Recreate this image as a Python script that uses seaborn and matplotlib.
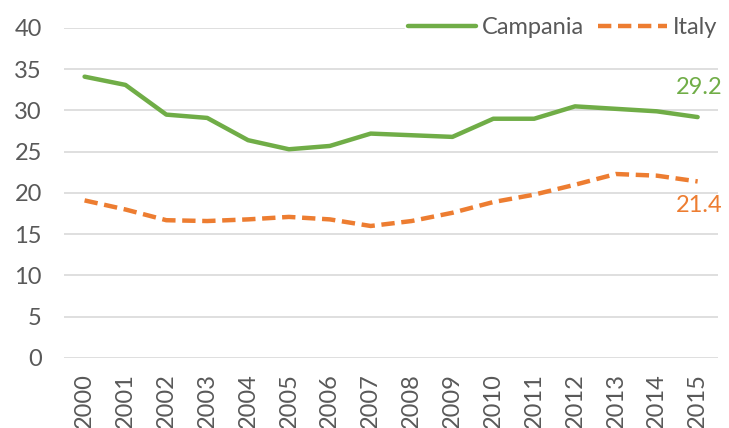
import pandas as pd
import matplotlib.pyplot as plt
import seaborn as sns

years = list(range(2000, 2016))
campania = [34.1, 33.1, 29.5, 29.1, 26.4, 25.3, 25.7, 27.2, 27.0, 26.8,
            29.0, 29.0, 30.5, 30.2, 29.9, 29.2]
italy = [19.1, 18.0, 16.7, 16.6, 16.8, 17.1, 16.8, 16.0, 16.6, 17.6,
         18.9, 19.8, 21.0, 22.3, 22.1, 21.4]

green = "#70AD47"
orange = "#ED7D31"
grey = "#595959"

sns.set_theme(style="whitegrid")
plt.rcParams['font.family'] = ['Lato', 'DejaVu Sans']

df = pd.DataFrame({
    "year": years * 2,
    "value": campania + italy,
    "area": ["Campania"] * len(years) + ["Italy"] * len(years),
})

fig = plt.figure(figsize=(7.29, 4.28), dpi=100)
ax = fig.add_axes([0.088, 0.1636, 0.897, 0.771])

sns.lineplot(data=df, x="year", y="value", hue="area", style="area",
             palette={"Campania": green, "Italy": orange},
             dashes={"Campania": "", "Italy": (3.0, 1.5)},
             linewidth=3.2, ax=ax, legend=True)

ax.set_xlim(1999.5, 2015.5)
ax.set_ylim(0, 40)
ax.set_yticks(range(0, 41, 5))
ax.set_xticks(years)
ax.set_xticklabels([str(y) for y in years], rotation=90)
ax.tick_params(axis="both", labelsize=17, colors=grey, length=0)
ax.tick_params(axis="x", pad=11)
ax.tick_params(axis="y", pad=16)
ax.grid(axis="x", visible=False)
ax.grid(axis="y", color="#D9D9D9", linewidth=1.2)
ax.set_xlabel("")
ax.set_ylabel("")
for s in ax.spines.values():
    s.set_visible(False)

# end labels
ax.annotate(f"{campania[-1]}", (years[-1], campania[-1]), xytext=(1, 14),
            textcoords="offset points", ha="center", va="bottom",
            fontsize=17, color=green)
ax.annotate(f"{italy[-1]}", (years[-1], italy[-1]), xytext=(1, -10),
            textcoords="offset points", ha="center", va="top",
            fontsize=17, color=orange)

leg = ax.legend(loc="center right", bbox_to_anchor=(1.02, 1.0), ncol=2,
                frameon=True, fontsize=17, handlelength=2.9,
                handletextpad=0.25, columnspacing=0.6, borderpad=0.1)
leg.get_frame().set_facecolor("white")
leg.get_frame().set_edgecolor("white")
leg.get_frame().set_alpha(1)
for t in leg.get_texts():
    t.set_color(grey)
for line in leg.get_lines():
    line.set_linewidth(3.2)

fig.savefig("out.png", dpi=100)
